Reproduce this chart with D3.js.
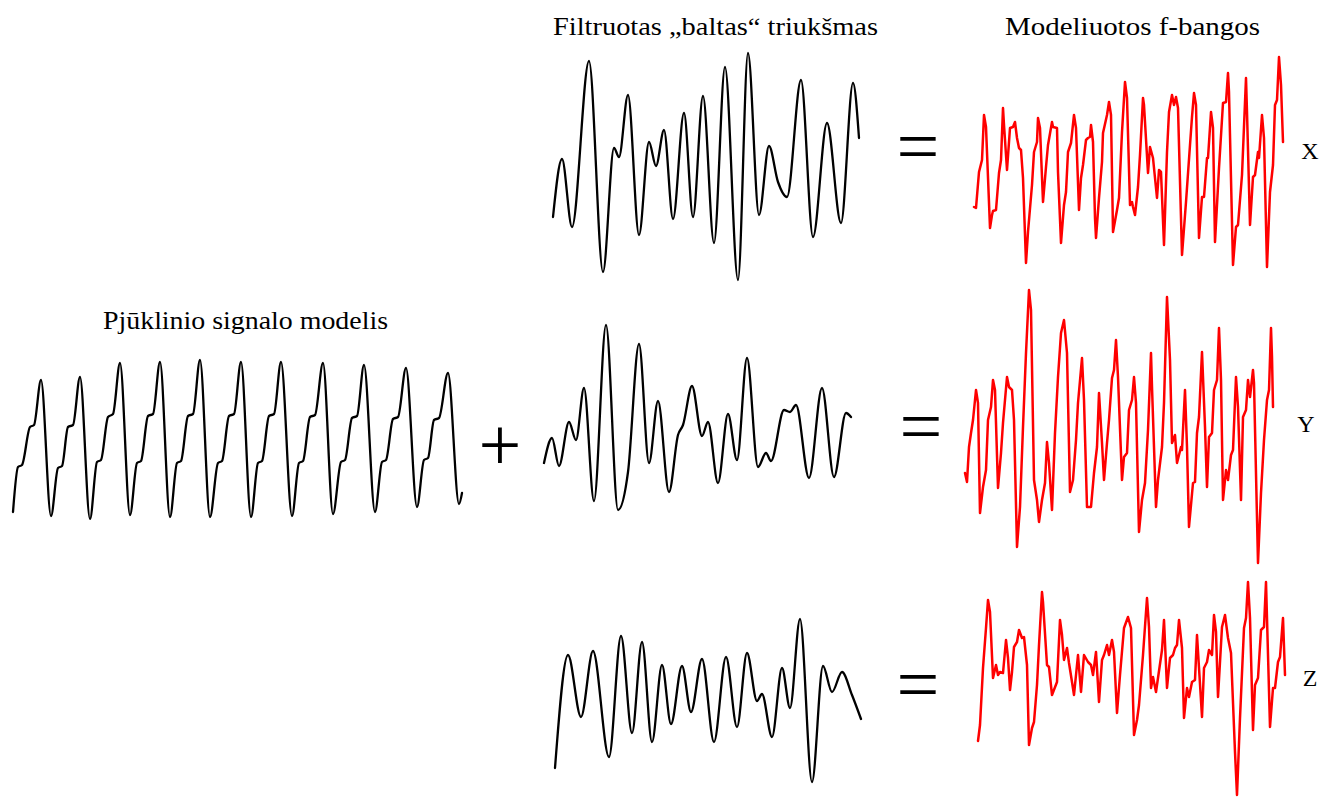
<!DOCTYPE html>
<meta charset="utf-8">
<style>

body {
  margin: 0;
  background: #fff;
}

text {
  font-family: "Liberation Serif", "Times New Roman", serif;
  fill: #000;
}

.trace {
  fill: none;
  stroke-linejoin: round;
  stroke-linecap: round;
}

</style>
<svg width="1335" height="797"></svg>
<script src="https://d3js.org/d3.v7.min.js"></script>
<script>

// every trace is a list of [sample, amplitude]

var sawtooth = [
  [1,-72],[6,-27],[10,-25],[18,13],[22,15],[29,60],
  [39,-76],[46,-28],[50,-26],[56,13],[61,15],[68,63],
  [78,-79],[85,-22],[89,-20],[96,23],[101,26],[108,77],
  [118,-75],[125,-23],[129,-21],[136,24],[141,26],[148,78],
  [158,-77],[165,-23],[169,-21],[176,24],[181,26],[188,80],
  [198,-77],[206,-23],[210,-21],[217,24],[222,26],[229,78],
  [239,-77],[246,-23],[250,-21],[257,24],[262,26],[269,78],
  [280,-76],[287,-23],[291,-21],[298,23],[303,25],[311,77],
  [321,-74],[329,-22],[333,-20],[340,22],[345,24],[352,75],
  [363,-72],[370,-22],[374,-20],[381,21],[386,23],[394,72],
  [405,-67],[412,-20],[416,-18],[422,20],[427,22],[436,67],
  [447,-64],[450,-53]
];

var noiseX = [
  [0,-51],[9,7],[19,-61],[36,105],[50,-106],[61,18],[66,9],[75,71],
  [86,-69],[96,24],[103,0],[111,36],[120,-53],[131,53],[140,-51],
  [150,70],[161,-77],[172,99],[185,-114],[195,113],[206,-49],[216,20],
  [225,-16],[234,-31],[248,86],[260,-71],[274,43],[288,-57],[300,83],
  [306,28]
];

var noiseY = [
  [0,-43],[8,-18],[15,-46],[25,-2],[32,-20],[40,32],[50,-81],[62,95],
  [74,-90],[84,-52],[95,76],[105,-43],[114,19],[125,-72],[134,-15],
  [139,-5],[148,34],[158,-16],[164,-2],[174,-63],[184,6],[193,-40],
  [203,62],[214,-47],[222,-33],[227,-41],[240,10],[246,8],[252,15],
  [265,-58],[278,32],[290,-57],[302,7],[307,3]
];

var noiseZ = [
  [0,-68],[13,45],[26,-17],[38,49],[54,-57],[66,64],[77,-33],[87,58],
  [97,-42],[107,35],[116,-24],[127,34],[136,-12],[147,41],[159,-42],
  [171,43],[182,-27],[192,47],[202,-1],[207,6],[217,-37],[227,32],
  [235,-8],[245,81],[257,-82],[268,34],[277,8],[287,28],[297,5],
  [306,-19]
];

var waveX = [
  [0,-47],[2,-48],[5,-12],[8,0],[10,45],[12,33],[16,-68],[18,-55],
  [19,-51],[22,-50],[25,-13],[27,0],[29,52],[30,35],[33,-10],[36,32],
  [39,33],[41,38],[43,22],[45,12],[47,10],[49,-18],[52,-103],[54,-72],
  [58,-25],[60,8],[63,18],[64,42],[66,32],[69,-42],[72,-7],[74,15],
  [78,38],[79,33],[83,32],[84,-12],[87,-83],[90,-45],[92,-32],[94,8],
  [97,17],[100,45],[102,32],[105,-50],[107,-18],[109,-5],[112,20],
  [114,22],[116,23],[117,35],[119,18],[121,-58],[122,-78],[125,-38],
  [128,-2],[129,27],[133,45],[135,58],[137,45],[139,-72],[143,-50],
  [145,-38],[148,28],[151,78],[153,62],[156,-45],[158,-42],[159,-47],
  [161,-55],[164,-27],[166,5],[169,62],[170,55],[174,-13],[176,13],
  [179,2],[183,-38],[185,-10],[187,-12],[190,-85],[193,8],[195,48],
  [198,65],[200,55],[202,63],[204,52],[208,-95],[212,-42],[216,15],
  [218,43],[220,67],[222,55],[225,-78],[228,-37],[230,-37],[233,2],
  [234,2],[237,48],[239,32],[241,-82],[245,-8],[249,57],[252,58],
  [254,87],[255,68],[259,-105],[262,-67],[264,-65],[268,-15],[272,82],
  [273,48],[276,-65],[279,-17],[281,-15],[284,8],[285,2],[288,45],
  [290,22],[293,-107],[296,-32],[299,-5],[301,55],[303,60],[305,103],
  [307,75],[309,18]
];

var waveY = [
  [0,-53],[2,-62],[4,-27],[6,-13],[8,0],[11,30],[13,17],[15,-93],
  [18,-67],[21,-50],[23,0],[26,13],[28,40],[30,30],[33,-68],[36,-33],
  [38,-3],[42,43],[44,33],[47,30],[49,0],[52,-127],[55,-87],[58,-7],
  [61,67],[64,130],[66,110],[69,-60],[72,-80],[74,-102],[77,-80],
  [80,-63],[82,-22],[84,-43],[87,-90],[90,-13],[93,43],[96,87],
  [99,100],[102,67],[105,-72],[108,-60],[111,-20],[113,17],[117,62],
  [119,20],[122,-87],[126,-87],[129,-53],[132,-27],[134,27],[137,-23],
  [139,-60],[142,-23],[144,0],[147,42],[149,50],[151,80],[153,43],
  [157,-60],[159,-37],[162,-33],[164,10],[167,20],[169,43],[171,17],
  [174,-112],[177,-80],[180,-63],[183,-10],[186,67],[187,33],[191,-87],
  [193,-60],[197,-27],[199,17],[202,123],[205,60],[207,-23],[210,-15],
  [212,-43],[216,-27],[217,-30],[220,30],[222,-27],[224,-107],[228,-63],
  [230,-62],[232,-13],[234,3],[237,68],[240,-7],[242,-67],[244,-17],
  [247,-13],[249,30],[252,40],[254,92],[256,40],[258,-80],[261,-50],
  [263,-60],[266,-35],[268,-30],[271,43],[273,13],[276,-80],[278,3],
  [281,10],[283,40],[285,23],[288,50],[289,37],[293,-143],[296,-73],
  [299,-20],[302,20],[304,30],[306,92],[307,63],[308,13]
];

var waveZ = [
  [1,-61],[3,-45],[6,12],[9,52],[11,80],[13,68],[16,2],[19,15],[21,5],
  [23,8],[26,7],[29,40],[31,22],[33,-10],[35,8],[37,33],[40,38],[42,50],
  [45,42],[47,43],[50,15],[52,-65],[55,-48],[57,-42],[60,-5],[62,35],
  [65,88],[66,78],[70,15],[72,13],[75,-15],[80,-2],[83,60],[85,45],
  [87,20],[90,32],[92,17],[95,-2],[97,-15],[101,25],[104,-12],[107,25],
  [111,18],[114,15],[116,5],[119,28],[122,-22],[125,20],[127,25],
  [130,35],[132,25],[135,40],[137,28],[140,-33],[143,5],[147,52],
  [151,63],[154,52],[157,-55],[160,-40],[162,-25],[166,25],[170,82],
  [172,53],[174,-8],[176,3],[179,-12],[181,2],[185,30],[187,60],
  [190,-8],[193,22],[196,25],[198,32],[200,35],[202,60],[205,32],
  [207,-38],[210,-8],[212,-17],[215,-2],[218,0],[220,45],[225,-37],
  [227,12],[230,18],[232,30],[235,25],[237,65],[239,48],[241,-17],
  [245,53],[248,65],[251,42],[254,27],[258,-72],[260,-115],[263,-38],
  [267,52],[269,62],[271,98],[273,62],[276,-50],[278,-5],[281,2],
  [284,50],[287,53],[289,98],[293,-47],[296,-8],[298,-8],[301,18],
  [303,23],[306,62],[308,5]
];

var titles = ["Filtruotas \u201ebaltas\u201c triuk\u0161mas", "Modeliuotos f-bangos", "Pj\u016bklinio signalo modelis"];
var components = ["X", "Y", "Z"];

var svg = d3.select("svg");

var panels = [
  { data: sawtooth, x: 12,  mid: 440, color: "#000", width: 2.3, curve: d3.curveMonotoneX },
  { data: noiseX,   x: 553, mid: 166, color: "#000", width: 2.3, curve: d3.curveMonotoneX },
  { data: noiseY,   x: 544, mid: 420, color: "#000", width: 2.3, curve: d3.curveMonotoneX },
  { data: noiseZ,   x: 555, mid: 700, color: "#000", width: 2.3, curve: d3.curveMonotoneX },
  { data: waveX,    x: 974, mid: 160, color: "#ff0000", width: 2.5, curve: d3.curveLinear },
  { data: waveY,    x: 965, mid: 420, color: "#ff0000", width: 2.5, curve: d3.curveLinear },
  { data: waveZ,    x: 977, mid: 680, color: "#ff0000", width: 2.5, curve: d3.curveLinear }
];

panels.forEach(function(p) {
  var x = d3.scaleLinear().domain([0, 100]).range([p.x, p.x + 100]);
  var y = d3.scaleLinear().domain([-100, 100]).range([p.mid + 100, p.mid - 100]);

  var line = d3.line()
      .curve(p.curve)
      .x(function(d) { return x(d[0]); })
      .y(function(d) { return y(d[1]); });

  svg.append("path")
      .datum(p.data)
      .attr("class", "trace")
      .attr("stroke", p.color)
      .attr("stroke-width", p.width)
      .attr("d", line);
});

// headings
var titlePos = [
  { x: 553, y: 35, w: 325 },
  { x: 1005, y: 35, w: 255 },
  { x: 103, y: 329, w: 285 }
];

svg.selectAll(".title")
    .data(titles)
  .enter().append("text")
    .attr("class", "title")
    .attr("x", function(d, i) { return titlePos[i].x; })
    .attr("y", function(d, i) { return titlePos[i].y; })
    .attr("textLength", function(d, i) { return titlePos[i].w; })
    .attr("lengthAdjust", "spacingAndGlyphs")
    .style("font-size", "25px")
    .text(function(d) { return d; });

var rowY = [159, 432, 686];
var rowX = [1310, 1306, 1310];
var eqY = [172, 452, 710];

svg.selectAll(".comp")
    .data(components)
  .enter().append("text")
    .attr("class", "comp")
    .attr("x", function(d, i) { return rowX[i]; })
    .attr("y", function(d, i) { return rowY[i]; })
    .attr("text-anchor", "middle")
    .style("font-size", "24px")
    .text(function(d) { return d; });

svg.selectAll(".eq")
    .data(components)
  .enter().append("text")
    .attr("class", "eq")
    .attr("x", function(d, i) { return i == 1 ? 921 : 918; })
    .attr("y", function(d, i) { return eqY[i]; })
    .attr("text-anchor", "middle")
    .style("font-size", "76px")
    .text("=");

svg.append("text")
    .attr("x", 500)
    .attr("y", 470)
    .attr("text-anchor", "middle")
    .style("font-size", "76px")
    .text("+");

</script>
